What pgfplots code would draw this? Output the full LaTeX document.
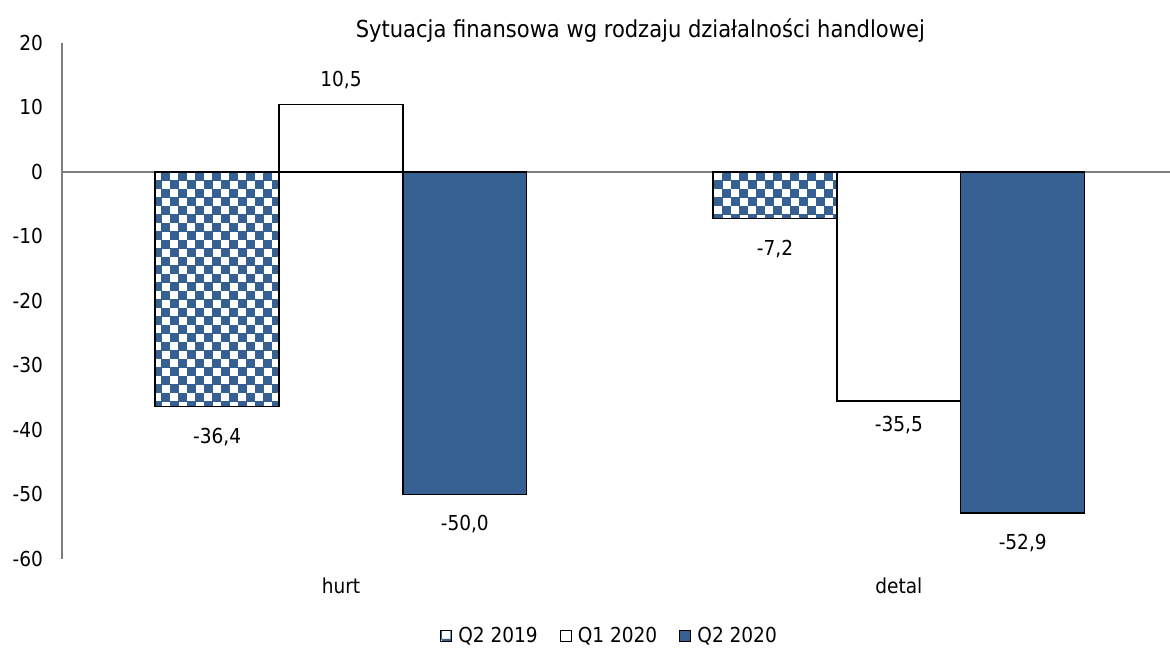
\documentclass[border=0pt]{standalone}
\usepackage{fontspec}
\setmainfont{DejaVu Sans Condensed}
\usepackage{pgfplots}
\pgfplotsset{compat=1.18}
\usetikzlibrary{patterns}
\definecolor{barblue}{RGB}{55,96,146}
\definecolor{axgrey}{RGB}{125,125,125}

% checkerboard for Q2 2019
\pgfdeclarepatternformonly{checker}{\pgfqpoint{0bp}{0bp}}{\pgfqpoint{8.5bp}{8.5bp}}{\pgfqpoint{8.5bp}{8.5bp}}{%
  \pgfpathrectangle{\pgfqpoint{0bp}{0bp}}{\pgfqpoint{4.7bp}{4.7bp}}%
  \pgfpathrectangle{\pgfqpoint{4.25bp}{4.25bp}}{\pgfqpoint{4.7bp}{4.7bp}}%
  \pgfusepath{fill}}

\begin{document}
\begin{tikzpicture}
\begin{axis}[
    name=ax,
    scale only axis,
    width=554bp, height=258bp,
    xmin=-0.5, xmax=1.486,
    ymin=-60, ymax=20,
    axis y line=left,
    axis x line=bottom,
    x axis line style={draw=none},
    y axis line style={axgrey, line width=0.6bp, -},
    xtick={0,1}, xticklabels={hurt,detal},
    ytick={-60,-50,...,20},
    yticklabels={-60,-50,-40,-30,-20,-10,0,10,20},
    major tick length=0pt,
    tick style={draw=none},
    tick label style={font=\fontsize{10.3bp}{12bp}\selectfont},
    xticklabel style={yshift=-6bp},
    yticklabel style={xshift=-6bp},
    title={Sytuacja finansowa wg rodzaju działalności handlowej},
    title style={at={(0.522,1)}, anchor=center, yshift=0.5bp,
                 font=\fontsize{11.7bp}{14bp}\selectfont},
    ybar,
    bar width=0.222,
    nodes near coords,
    nodes near coords align={vertical},
    /pgf/number format/.cd, use comma, fixed, fixed zerofill, precision=1,
      assume math mode=true,
    /pgfplots/.cd,
    every node near coord/.append style={font=\fontsize{10.3bp}{12bp}\selectfont,
                 black, inner sep=7.5bp},
    legend columns=3,
    legend style={draw=none, at={(0.495,-0.149)}, anchor=center,
                  font=\fontsize{10.3bp}{12bp}\selectfont,
                  /tikz/every even column/.append style={column sep=9bp},
                  /tikz/every odd column/.append style={column sep=1bp},
                  inner sep=0pt},
    legend image code/.code={%
      \draw[#1, line width=0.5bp] (0bp,-2.8bp) rectangle (5.6bp,2.8bp);},
    clip=false,
]
% zero line
\addplot[ybar=0pt, sharp plot, axgrey, line width=0.6bp, forget plot, nodes near coords={}]
  coordinates {(-0.5,0) (1.486,0)};

\addplot[bar shift=-0.222, draw=black, line width=0.7bp,
         pattern=checker, pattern color=barblue,
         every node near coord/.append style={inner sep=10.5bp}]
  coordinates {(0,-36.4) (1,-7.2)};
\addlegendentry{Q2 2019}

\addplot[bar shift=0, draw=black, line width=0.7bp, fill=white]
  coordinates {(0,10.5) (1,-35.5)};
\addlegendentry{Q1 2020}

\addplot[bar shift=0.222, draw=black, line width=0.7bp, fill=barblue,
         every node near coord/.append style={inner sep=10bp}]
  coordinates {(0,-50.0) (1,-52.9)};
\addlegendentry{Q2 2020}
\end{axis}
\pgfresetboundingbox
\path ([shift={(-31bp,-44.5bp)}]ax.south west) rectangle ([shift={(0bp,21.5bp)}]ax.north east);
\end{tikzpicture}
\end{document}
